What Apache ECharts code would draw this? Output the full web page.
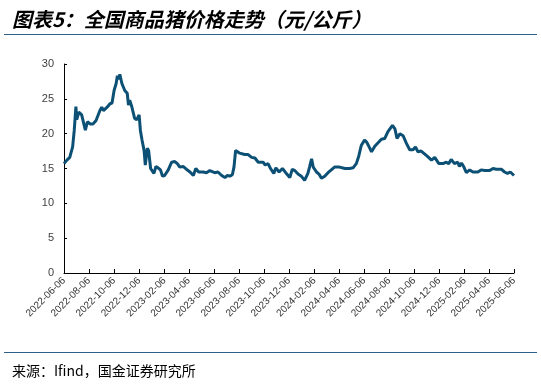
<!DOCTYPE html>
<html>
<head>
<meta charset="utf-8">
<script src="https://cdn.jsdelivr.net/npm/echarts@6/dist/echarts.min.js"></script>
<style>html,body{margin:0;padding:0;background:#fff}#c{width:541px;height:384px}</style>
</head>
<body>
<div id="c"></div>
<script>
var dates = [
'2022-06-06','2022-06-13','2022-06-20','2022-06-27','2022-07-01','2022-07-05','2022-07-07','2022-07-12','2022-07-19','2022-07-23',
'2022-07-28','2022-08-02','2022-08-09','2022-08-16','2022-08-23','2022-09-02','2022-09-06','2022-09-10','2022-09-19','2022-09-26',
'2022-10-01','2022-10-06','2022-10-11','2022-10-14','2022-10-17','2022-10-20','2022-10-25','2022-11-01','2022-11-07','2022-11-10',
'2022-11-13','2022-11-18','2022-11-25','2022-11-30','2022-12-06','2022-12-09','2022-12-13','2022-12-18','2022-12-21','2022-12-26',
'2022-12-29','2023-01-03','2023-01-07','2023-01-11','2023-01-16','2023-01-21','2023-01-27','2023-02-01','2023-02-06','2023-02-15',
'2023-02-23','2023-03-03','2023-03-09','2023-03-15','2023-03-23','2023-03-31','2023-04-09','2023-04-17','2023-04-23','2023-04-30',
'2023-05-11','2023-05-19','2023-05-27','2023-06-08','2023-06-16','2023-06-25','2023-07-03','2023-07-09','2023-07-15','2023-07-21',
'2023-07-25','2023-07-29','2023-08-02','2023-08-08','2023-08-20','2023-08-28','2023-09-06','2023-09-14','2023-09-22','2023-09-26',
'2023-10-04','2023-10-09','2023-10-16','2023-10-22','2023-10-30','2023-11-04','2023-11-12','2023-11-20','2023-11-28','2023-12-08',
'2023-12-14','2023-12-20','2023-12-28','2024-01-05','2024-01-13','2024-01-21','2024-01-25','2024-01-30','2024-02-03','2024-02-11',
'2024-02-17','2024-02-23','2024-03-02','2024-03-10','2024-03-18','2024-03-26','2024-04-07','2024-04-20','2024-05-02','2024-05-10',
'2024-05-18','2024-05-24','2024-05-30','2024-06-07','2024-06-12','2024-06-19','2024-06-24','2024-07-02','2024-07-10','2024-07-18',
'2024-07-26','2024-08-03','2024-08-14','2024-08-20','2024-08-25','2024-09-01','2024-09-09','2024-09-17','2024-09-25','2024-10-03',
'2024-10-09','2024-10-15','2024-10-23','2024-10-31','2024-11-08','2024-11-17','2024-11-25','2024-12-05','2024-12-15','2024-12-23',
'2024-12-29','2025-01-04','2025-01-12','2025-01-20','2025-01-24','2025-01-29','2025-02-04','2025-02-10','2025-02-18','2025-02-26',
'2025-03-10','2025-03-18','2025-03-27','2025-04-07','2025-04-16','2025-04-24','2025-05-06','2025-05-14','2025-05-21','2025-05-28',
'2025-06-06'
];
var prices = [
15.7,16.2,16.6,18.1,20.5,23.9,22.0,23.1,22.7,22.5,
20.5,21.7,21.4,21.4,21.9,23.4,23.8,23.3,23.8,24.3,
24.4,26.2,27.2,28.3,27.8,28.5,27.2,26.2,25.8,24.1,
24.8,23.9,22.2,22.0,22.7,20.5,19.1,17.6,15.5,17.9,
17.6,15.0,15.1,14.3,15.3,15.1,14.8,13.9,14.0,14.8,
15.9,16.0,15.7,15.2,15.3,14.9,14.5,14.0,15.0,14.5,
14.5,14.4,14.7,14.4,14.5,14.0,13.7,14.0,13.9,14.1,
15.2,17.6,17.4,17.2,17.0,17.0,16.6,16.5,15.9,16.0,
15.9,15.5,15.7,15.0,14.3,15.1,14.5,15.0,14.4,13.7,
14.9,14.7,14.2,13.9,13.3,14.3,15.2,16.4,15.2,14.5,
14.2,13.6,13.9,14.4,14.8,15.2,15.2,15.0,15.0,15.1,
15.7,16.8,18.3,19.1,18.8,18.0,17.4,18.2,18.7,19.2,
19.3,20.3,21.2,20.7,19.3,20.0,19.7,18.6,17.7,17.7,
18.1,17.4,17.5,17.1,16.7,16.2,16.6,15.7,15.7,15.9,
15.7,16.3,15.7,15.9,15.3,15.8,15.2,14.4,14.8,14.5,
14.5,14.8,14.7,14.7,15.0,14.9,14.9,14.5,14.3,14.5,
14.0
];
var tickLabels = [
'2022-06-06','2022-08-06','2022-10-06','2022-12-06','2023-02-06','2023-04-06','2023-06-06',
'2023-08-06','2023-10-06','2023-12-06','2024-02-06','2024-04-06','2024-06-06','2024-08-06',
'2024-10-06','2024-12-06','2025-02-06','2025-04-06','2025-06-06'
];
var yTicks = [0, 5, 10, 15, 20, 25, 30];

function ts(s) { var p = s.split('-'); return new Date(+p[0], +p[1] - 1, +p[2]).getTime(); }
function pad(n) { return n < 10 ? '0' + n : '' + n; }
function fmt(v) { var d = new Date(v); return d.getFullYear() + '-' + pad(d.getMonth() + 1) + '-' + pad(d.getDate()); }

var tickTs = tickLabels.map(ts);
var seriesData = dates.map(function (d, i) { return [ts(d), prices[i]]; });

var chart = echarts.init(document.getElementById('c'), null, { renderer: 'canvas' });
chart.setOption({
  animation: false,
  backgroundColor: '#fff',
  title: [{
    text: '图表5：全国商品猪价格走势（元/公斤）',
    left: 7, top: 4,
    textStyle: { fontFamily: 'Noto Sans CJK SC', fontSize: 20, fontWeight: 'bold', fontStyle: 'italic', color: '#000' }
  }, {
    text: '来源：Ifind，国金证券研究所',
    left: 7, top: 359,
    textStyle: { fontFamily: 'Noto Sans CJK SC', fontSize: 14, fontWeight: 'normal', color: '#000' }
  }],
  graphic: [
    { type: 'line', shape: { x1: 4, y1: 34.5, x2: 537, y2: 34.5 }, style: { stroke: '#2e6189', lineWidth: 1.2 } },
    { type: 'line', shape: { x1: 4, y1: 352.5, x2: 537, y2: 352.5 }, style: { stroke: '#2e6189', lineWidth: 1.2 } }
  ],
  grid: { left: 64, right: 27, top: 64, bottom: 111, containLabel: false },
  xAxis: {
    type: 'value',
    min: tickTs[0],
    max: tickTs[tickTs.length - 1],
    splitLine: { show: false },
    axisLine: { lineStyle: { color: '#000', width: 1 } },
    axisTick: { show: true, inside: true, length: 4, customValues: tickTs, lineStyle: { color: '#000' } },
    axisLabel: {
      customValues: tickTs,
      rotate: 45,
      fontFamily: 'Arial, Liberation Sans',
      fontSize: 10,
      color: '#333',
      margin: 6,
      formatter: function (v) { return fmt(v); }
    }
  },
  yAxis: {
    type: 'value',
    min: yTicks[0],
    max: yTicks[yTicks.length - 1],
    interval: 5,
    splitLine: { show: false },
    axisLine: { show: true, lineStyle: { color: '#000', width: 1 } },
    axisTick: { show: true, inside: true, length: 3, lineStyle: { color: '#000' } },
    axisLabel: { fontFamily: 'Arial, Liberation Sans', fontSize: 11, color: '#404040', margin: 10 }
  },
  series: [{
    type: 'line',
    data: seriesData,
    showSymbol: false,
    smooth: false,
    lineStyle: { color: '#0c5075', width: 3 },
    itemStyle: { color: '#0c5075' }
  }]
});
</script>
</body>
</html>
